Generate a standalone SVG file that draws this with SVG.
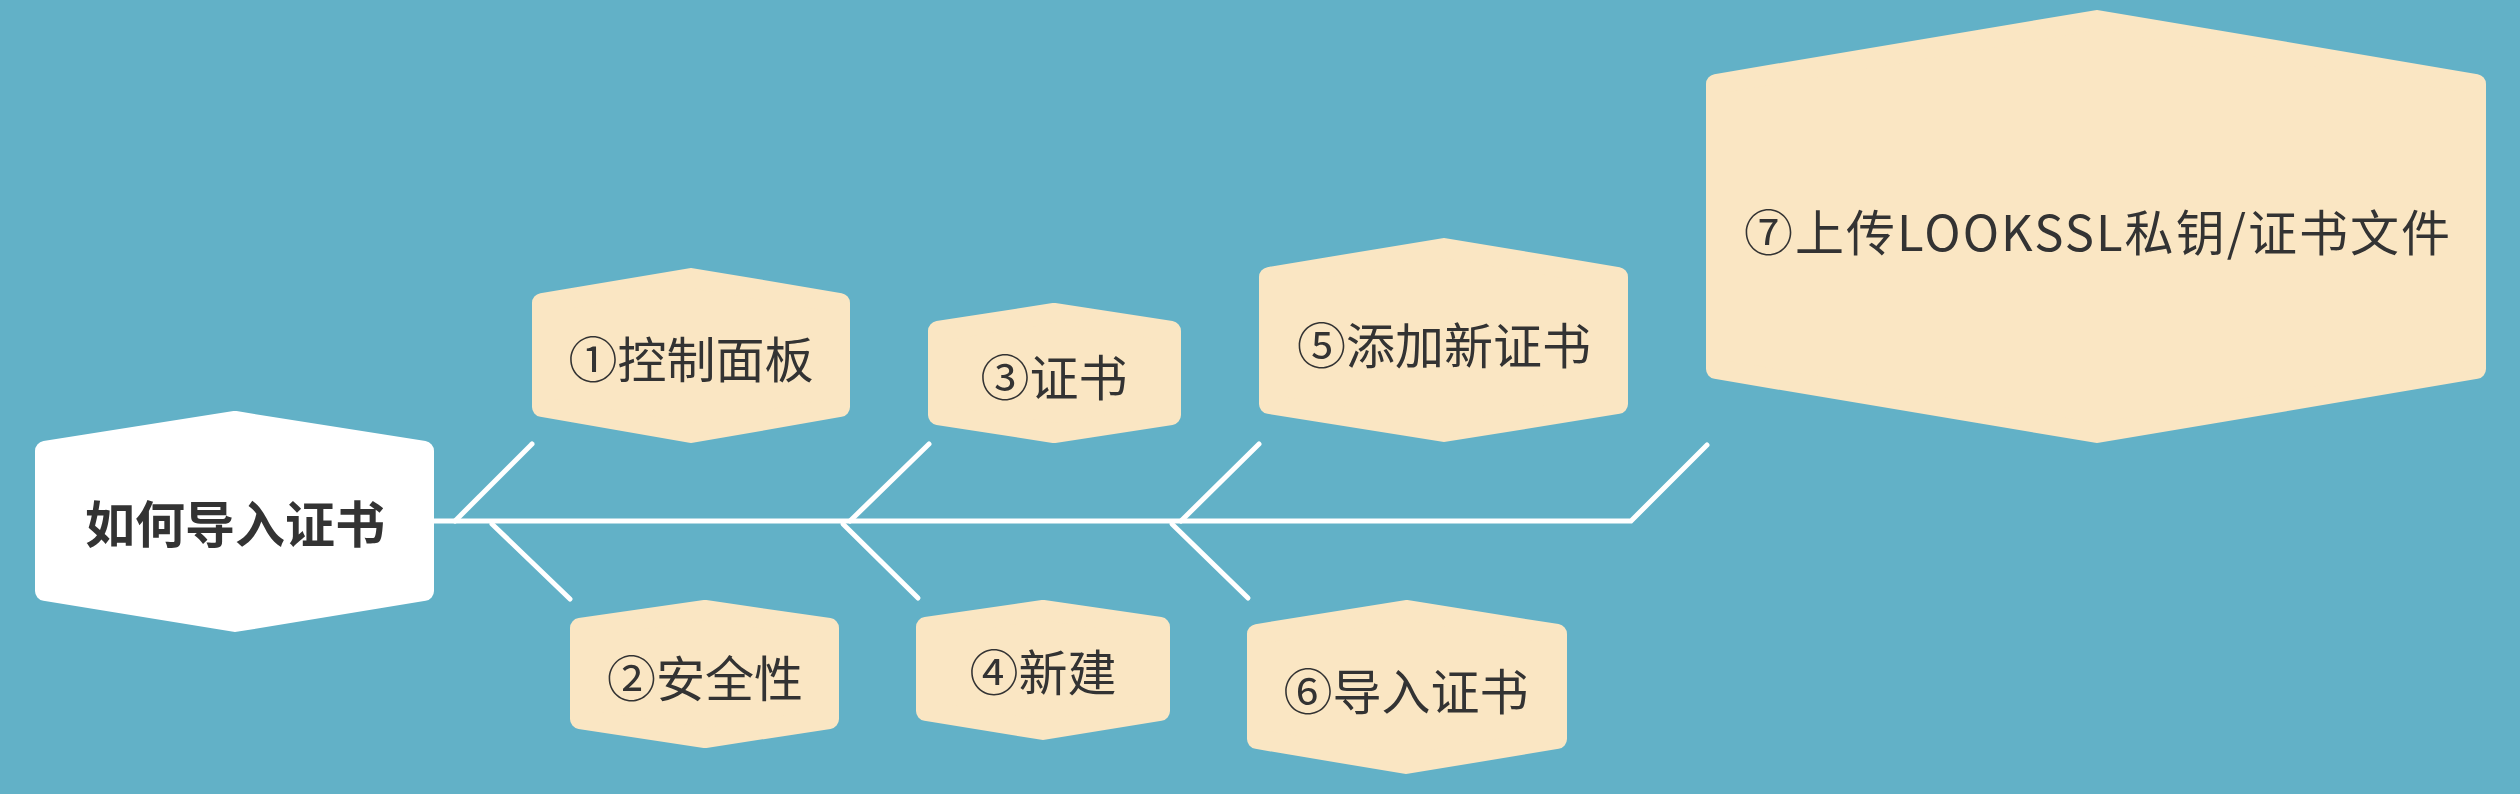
<svg xmlns="http://www.w3.org/2000/svg" width="2520" height="794" viewBox="0 0 2520 794">
<style>
.hex{fill:#FAE6C3;stroke:#FAE6C3;stroke-width:20;stroke-linejoin:round}
.root{fill:#FFFFFF;stroke:#FFFFFF;stroke-width:20;stroke-linejoin:round}
.lbl{font-family:"Noto Sans CJK SC","Noto Sans",sans-serif;font-size:49px;fill:#333333;text-anchor:middle}
.rlbl{font-family:"Noto Sans CJK SC","Noto Sans",sans-serif;font-size:50px;font-weight:700;fill:#333333;text-anchor:middle}
.ln{fill:none;stroke:#FFFFFF;stroke-width:5;stroke-linecap:round;stroke-linejoin:miter}
</style>
<rect width="2520" height="794" fill="#62B1C7"/>
<g id="connectors">
<path class="ln" d="M434,521 H1631 L1707,445"/>
<path class="ln" d="M455,521 L532,444"/>
<path class="ln" d="M492,524 L570,599"/>
<path class="ln" d="M850,521 L929,444"/>
<path class="ln" d="M843,524 L918,598"/>
<path class="ln" d="M1181,521 L1259,444"/>
<path class="ln" d="M1172,524 L1248,598"/>
</g>
<g id="root">
<polygon class="root" points="235,421 424,451 424,591 235,622 45,591 45,451"/>
<text class="rlbl" x="235" y="543">如何导入证书</text>
</g>
<g id="n1">
<polygon class="hex" points="691,278 840,303 840,407 691,433 542,407 542,303"/>
<text class="lbl" x="691" y="378">①控制面板</text>
</g>
<g id="n2">
<polygon class="hex" points="705,610 829,628 829,719 705,738 580,719 580,628"/>
<text class="lbl" x="705" y="697">②安全性</text>
</g>
<g id="n3">
<polygon class="hex" points="1054,313 1171,331 1171,415 1054,433 938,415 938,331"/>
<text class="lbl" x="1054" y="396">③证书</text>
</g>
<g id="n4">
<polygon class="hex" points="1043,610 1160,627 1160,711 1043,730 926,711 926,627"/>
<text class="lbl" x="1043" y="691">④新建</text>
</g>
<g id="n5">
<polygon class="hex" points="1444,248 1618,277 1618,404 1444,432 1269,404 1269,277"/>
<text class="lbl" x="1444" y="364">⑤添加新证书</text>
</g>
<g id="n6">
<polygon class="hex" points="1406,610 1557,634 1557,739 1406,764 1257,739 1257,634"/>
<text class="lbl" x="1406" y="710">⑥导入证书</text>
</g>
<g id="n7">
<polygon class="hex" points="2097,20 2476,84 2476,369 2097,433 1716,369 1716,84"/>
<text class="lbl" x="2097" y="251" textLength="706" lengthAdjust="spacing">⑦上传LOOKSSL私钥/证书文件</text>
</g>
</svg>
